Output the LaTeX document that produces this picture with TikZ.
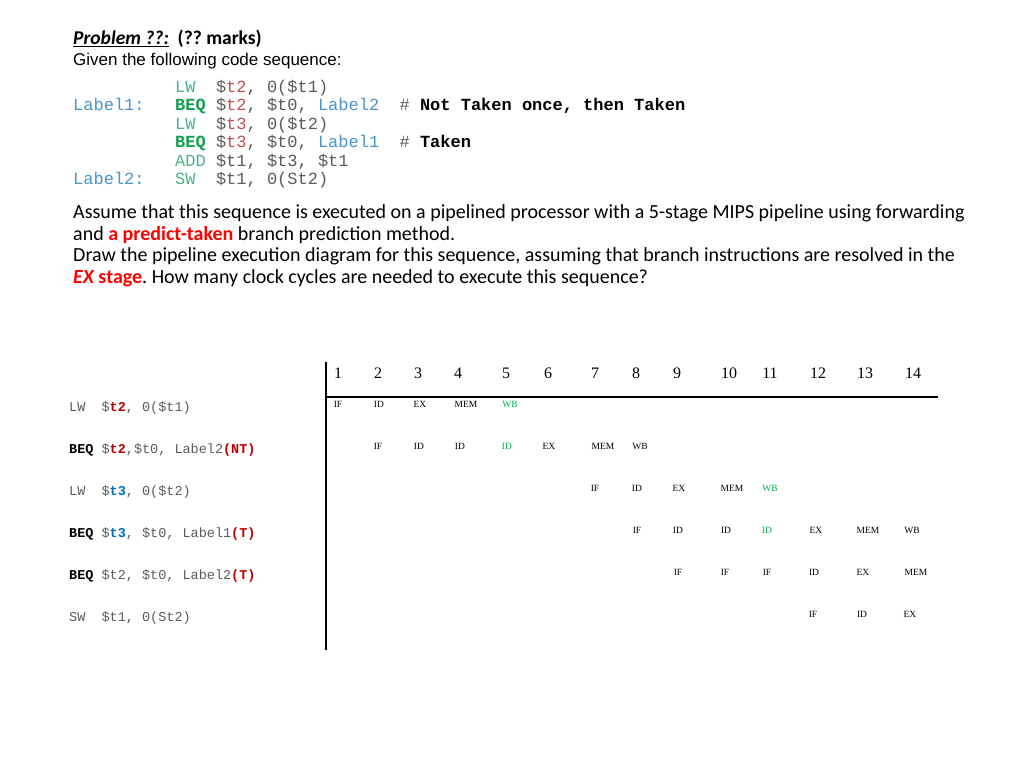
\documentclass[tikz,border=0pt]{standalone}
\usepackage{fontspec}
\setmainfont{Liberation Serif}
\setmonofont{Liberation Mono}
\newfontfamily\calib{Carlito}
\newfontfamily\arialf{Liberation Sans}
\definecolor{instg}{HTML}{4DB387}
\definecolor{beqg}{HTML}{10A050}
\definecolor{cgray}{HTML}{5A5A5A}
\definecolor{regr}{HTML}{C0504D}
\definecolor{lblb}{HTML}{4A94CC}
\definecolor{tred}{HTML}{C00000}
\definecolor{tblue}{HTML}{0070C0}
\definecolor{stgg}{HTML}{00B050}
\definecolor{pred}{HTML}{FF0000}
\tikzset{
  txt/.style={inner sep=0pt, anchor=base west},
  code/.style={txt, font=\ttfamily\fontsize{17}{20}\selectfont, text=cgray},
  tlab/.style={txt, font=\ttfamily\fontsize{13.5}{16}\selectfont, text=cgray},
  para/.style={txt, font=\calib\fontsize{20}{24}\selectfont},
  cyc/.style={inner sep=0pt, anchor=base, font=\fontsize{16}{18}\selectfont},
  stg/.style={inner sep=0pt, anchor=base, font=\fontsize{9.5}{11}\selectfont},
  stgx/.style={stg, text=stgg},
  rule/.style={line width=1.6pt, black}
}
\begin{document}
\begin{tikzpicture}[x=1pt,y=-1pt]
\frenchspacing
\useasboundingbox (0,0) rectangle (1024,768);
% header
\node[txt, font=\calib\bfseries\fontsize{19.5}{23}\selectfont] (title) at (73,45)
  {\underline{\itshape Problem ??:}\ \ (?? marks)};
\node[txt, font=\arialf\fontsize{17}{20}\selectfont] (given) at (73,65)
  {Given the following code sequence:};
% code
\node[code, text=lblb] (l1) at (73,110) {Label1:};
\node[code, text=lblb] (l2) at (73,184) {Label2:};
\node[code] (c1) at (175,92) {\color{instg}LW\ \ \color{cgray}\$\color{regr}t2\color{cgray}, 0(\$t1)};
\node[code] (c2) at (175,110) {\color{beqg}\bfseries BEQ\mdseries\color{cgray}\ \$\color{regr}t2\color{cgray}, \$t0, \color{lblb}Label2\color{cgray}\ \ \#\ \color{black}\bfseries Not Taken once, then Taken};
\node[code] (c3) at (175,129) {\color{instg}LW\ \ \color{cgray}\$\color{regr}t3\color{cgray}, 0(\$t2)};
\node[code] (c4) at (175,147) {\color{beqg}\bfseries BEQ\mdseries\color{cgray}\ \$\color{regr}t3\color{cgray}, \$t0, \color{lblb}Label1\color{cgray}\ \ \#\ \color{black}\bfseries Taken};
\node[code] (c5) at (175,166) {\color{instg}ADD\ \color{cgray}\$t1, \$t3, \$t1};
\node[code] (c6) at (175,184) {\color{instg}SW\ \ \color{cgray}\$t1, 0(St2)};
% paragraph
\node[para] (p1) at (73,218) {Assume that this sequence is executed on a pipelined processor with a 5-stage MIPS pipeline using forwarding};
\node[para] (p2) at (73,240) {and {\color{pred}\bfseries a predict-taken} branch prediction method.};
\node[para] (p3) at (73,261) {Draw the pipeline execution diagram for this sequence, assuming that branch instructions are resolved in the};
\node[para] (p4) at (73,283) {{\color{pred}\bfseries\itshape EX}{\color{pred}\bfseries\ stage}. How many clock cycles are needed to execute this sequence?};
% table rules
\coordinate (vt) at (326,362);
\coordinate (vb) at (326,650);
\coordinate (hl) at (326,397);
\coordinate (hr) at (938,397);
\draw[rule] (vt) -- (vb);
\draw[rule] (hl) -- (hr);
% cycle numbers
\foreach \n/\x in {1/338,2/378,3/418,4/458,5/506,6/548,7/595,8/636,9/677,10/729,11/770,12/818,13/865,14/913}
  \node[cyc] (n\n) at (\x,378) {\n};
% instruction labels
\node[tlab] (i1) at (69,411) {LW\ \ \$\color{tred}\bfseries t2\mdseries\color{cgray}, 0(\$t1)};
\node[tlab] (i2) at (69,453) {\color{black}\bfseries BEQ\mdseries\color{cgray}\ \$\color{tred}\bfseries t2\mdseries\color{cgray},\$t0, Label2\color{tred}\bfseries (NT)};
\node[tlab] (i3) at (69,495) {LW\ \ \$\color{tblue}\bfseries t3\mdseries\color{cgray}, 0(\$t2)};
\node[tlab] (i4) at (69,537) {\color{black}\bfseries BEQ\mdseries\color{cgray}\ \$\color{tblue}\bfseries t3\mdseries\color{cgray}, \$t0, Label1\color{tred}\bfseries (T)};
\node[tlab] (i5) at (69,579) {\color{black}\bfseries BEQ\mdseries\color{cgray}\ \$t2, \$t0, Label2\color{tred}\bfseries (T)};
\node[tlab] (i6) at (69,621) {SW\ \ \$t1, 0(St2)};
% stages
\foreach \k/\x/\t/\s in {a/338/IF/stg,b/379/ID/stg,c/420/EX/stg,d/466/MEM/stg,e/510/WB/stgx}
  \node[\s] (r1\k) at (\x,407.5) {\t};
\foreach \k/\x/\t/\s in {a/378/IF/stg,b/419/ID/stg,c/460/ID/stg,d/507/ID/stgx,e/549/EX/stg,f/603/MEM/stg,g/640/WB/stg}
  \node[\s] (r2\k) at (\x,449.5) {\t};
\foreach \k/\x/\t/\s in {a/595/IF/stg,b/637/ID/stg,c/679/EX/stg,d/732/MEM/stg,e/770/WB/stgx}
  \node[\s] (r3\k) at (\x,491.5) {\t};
\foreach \k/\x/\t/\s in {a/637/IF/stg,b/678/ID/stg,c/726/ID/stg,d/767/ID/stgx,e/816/EX/stg,f/868/MEM/stg,g/912/WB/stg}
  \node[\s] (r4\k) at (\x,533.5) {\t};
\foreach \k/\x/\t/\s in {a/678/IF/stg,b/725/IF/stg,c/767/IF/stg,d/814/ID/stg,e/863/EX/stg,f/916/MEM/stg}
  \node[\s] (r5\k) at (\x,575.5) {\t};
\foreach \k/\x/\t/\s in {a/813/IF/stg,b/862/ID/stg,c/910/EX/stg}
  \node[\s] (r6\k) at (\x,617.5) {\t};
\end{tikzpicture}
\end{document}
